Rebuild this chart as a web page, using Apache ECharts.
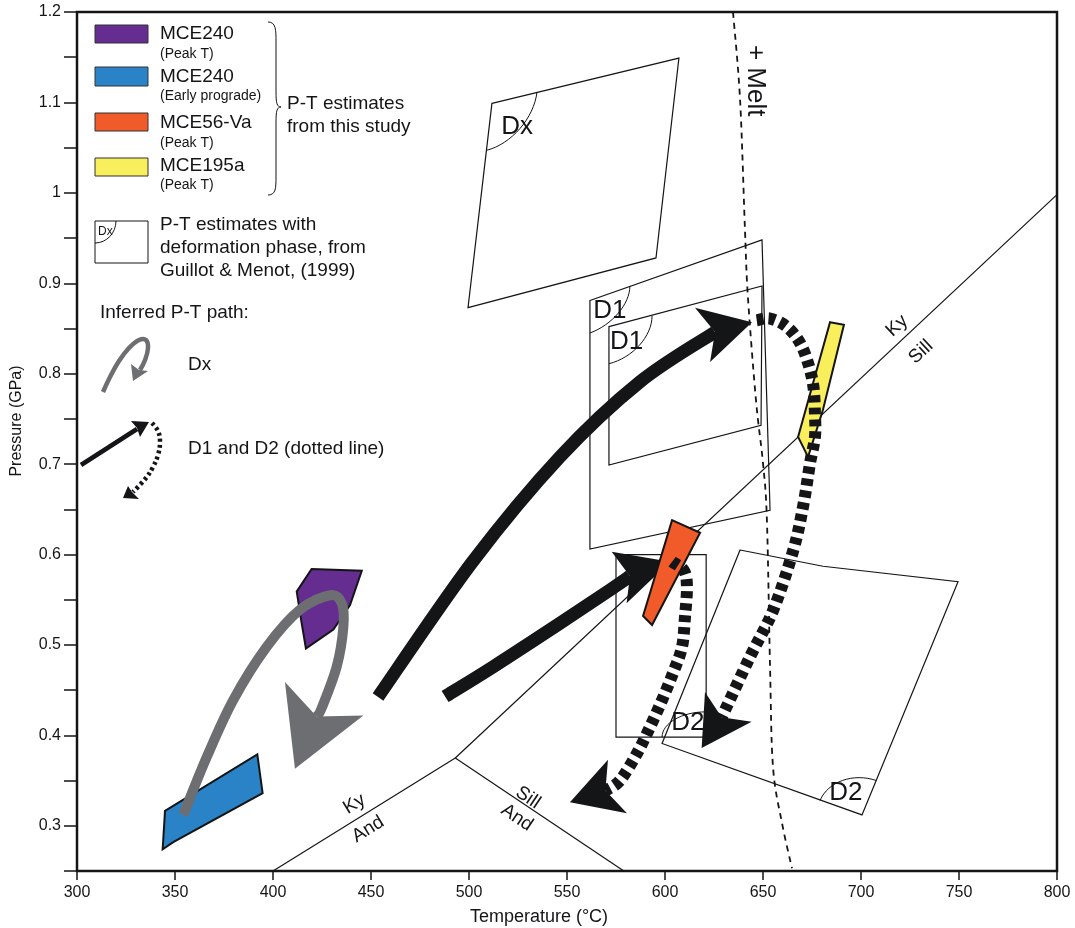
<!DOCTYPE html>
<html>
<head>
<meta charset="utf-8">
<script src="https://cdn.jsdelivr.net/npm/echarts/dist/echarts.min.js"></script>
<style>
  html, body { margin: 0; padding: 0; background: #fff; }
  #main { width: 1075px; height: 928px; }
</style>
</head>
<body>
<div id="main"></div>
<script>
// ---- data (temperature °C, pressure GPa) ----
const tempRange = [300, 800]
const pressRange = [0.25, 1.2]

// aluminosilicate phase boundaries
const kyAnd = [[400, 0.25], [493, 0.375]]
const sillAnd = [[493, 0.375], [579, 0.25]]
const kySill = [[493, 0.375], [800, 0.998]]

// wet solidus (+ Melt)
const meltCurve = [
  [634.7, 1.2], [638.3, 1.103], [640.8, 0.959], [642.3, 0.885], [646.4, 0.771],
  [650.0, 0.701], [652.0, 0.638], [653.6, 0.475], [655.1, 0.365], [659.7, 0.303], [664.8, 0.253],
]

// Guillot & Menot (1999) P-T boxes
const boxDx = [[511.7, 1.099], [607.1, 1.149], [595.4, 0.928], [499.5, 0.873]]
const boxD1outer = [[561.7, 0.881], [649.5, 0.948], [653.6, 0.649], [561.7, 0.606]]
const boxD1inner = [[571.4, 0.852], [649.5, 0.897], [649.0, 0.743], [571.4, 0.699]]
const boxD2small = [[575, 0.6], [621, 0.6], [621, 0.398], [575, 0.398]]
const boxD2big = [[638.3, 0.605], [680.6, 0.587], [749.5, 0.570], [700.5, 0.312], [598.5, 0.391]]

// corner arcs around phase labels: [corner, end on edge 1, end on edge 2]
const labelArcs = [
  [[511.7, 1.099], [508.9, 1.047], [534.7, 1.1115]],
  [[561.7, 0.881], [561.7, 0.845], [582.1, 0.897]],
  [[571.4, 0.852], [571.4, 0.811], [593.4, 0.864]],
  [[620.9, 0.398], [598.5, 0.398], [620.9, 0.426]],
  [[700.5, 0.312], [679.1, 0.328], [707.9, 0.350]],
]
const boxLabelPos = [[524.5, 1.073], [571.9, 0.869], [580.4, 0.835], [611.7, 0.414], [692.3, 0.337]]
const boxLabelText = ['Dx', 'D1', 'D1', 'D2', 'D2']

// phase-line labels: position, rotation (deg)
const lineLabelPos = [[441.5, 0.324], [448.5, 0.296], [530.1, 0.331], [524.5, 0.309], [718.4, 0.853], [730.6, 0.824], [645.9, 1.124]]
const lineLabelText = ['Ky', 'And', 'Sill', 'And', 'Ky', 'Sill', '+ Melt']
const lineLabelRot = [31.6, 31.6, -34, -34, 43, 43, -90]
const lineLabelSize = [19, 19, 19, 19, 19, 19, 26]

// P-T estimates from this study
const mce240Peak = [[419.7, 0.584], [445.3, 0.582], [439.3, 0.544], [430.8, 0.517], [416.8, 0.496], [414.6, 0.5245], [412.1, 0.559]]
const mce240Early = [[344.9, 0.3165], [392.0, 0.379], [394.7, 0.336], [349.1, 0.282], [343.7, 0.274]]
const mce56Va = [[603.6, 0.638], [617.9, 0.624], [593.4, 0.522], [588.8, 0.532]]
const mce195a = [[684.2, 0.857], [691.3, 0.854], [680.6, 0.760], [673.0, 0.708], [667.9, 0.730]]

// inferred P-T paths
const pathDx = [[354.2, 0.312], [366.2, 0.376], [379.7, 0.439], [396.8, 0.498], [413.8, 0.539], [429.1, 0.555],
  [435.1, 0.546], [435.9, 0.520], [432.5, 0.476], [424.8, 0.430], [422.3, 0.421]]
const headDx = [[411.2, 0.363], [406.1, 0.459], [422.3, 0.421], [446.1, 0.422]]
const pathD1a = [[453.6, 0.4425], [501.8, 0.592], [546.4, 0.708], [587.2, 0.791], [625.5, 0.846]]
const headD1a = [[644.4, 0.857], [615.3, 0.873], [625.5, 0.846], [623.0, 0.813]]
const pathD1b = [[487.8, 0.443], [512.4, 0.476], [546.4, 0.524], [572.0, 0.561], [582.1, 0.576]]
const headD1b = [[602.6, 0.592], [572.8, 0.603], [582.1, 0.576], [580.4, 0.546]]
const pathD2a = [[646.8, 0.859], [653.6, 0.861], [662.1, 0.852], [668.9, 0.834], [673.1, 0.811], [675.7, 0.786],
  [676.5, 0.756], [676.5, 0.730], [674.0, 0.701], [670.6, 0.655], [665.5, 0.605], [655.3, 0.539],
  [643.4, 0.487], [631.5, 0.432], [628.9, 0.420]]
const headD2a = [[618.7, 0.386], [620.4, 0.448], [628.9, 0.420], [644.2, 0.415]]
const pathD2b = [[603.6, 0.592], [609.7, 0.582], [611.2, 0.564], [610.2, 0.531], [608.7, 0.498], [604.1, 0.469],
  [598.5, 0.439], [592.3, 0.409], [585.7, 0.380], [577.0, 0.350], [569.6, 0.339]]
const headD2b = [[551.5, 0.326], [570.9, 0.373], [569.6, 0.339], [580.6, 0.314]]

// ---- styles ----
const FONT = '"Liberation Sans", Arial, Helvetica, sans-serif'
const INK = '#131516'
const PURPLE = '#662d91'
const BLUE = '#2a83c6'
const ORANGE = '#f15a29'
const YELLOW = '#f9ee5c'
const GREY = '#6d6e71'

function lineS(pts, color, width, z) {
  return {
    type: 'line', data: pts, symbol: 'none', showSymbol: false,
    silent: true, animation: false, z: z,
    lineStyle: { color: color, width: width, cap: 'butt' },
  }
}

// smooth path through the read points (Catmull-Rom, drawn through the axes)
function curveS(pts, color, width, dash, z) {
  return {
    type: 'custom', data: [0], silent: true, animation: false, z: z,
    renderItem: function (params, api) {
      const p = pts.map(q => api.coord(q))
      let d = 'M' + p[0][0] + ' ' + p[0][1]
      for (let i = 0; i < p.length - 1; i++) {
        const p0 = p[Math.max(i - 1, 0)], p1 = p[i], p2 = p[i + 1], p3 = p[Math.min(i + 2, p.length - 1)]
        const c1x = p1[0] + (p2[0] - p0[0]) / 6, c1y = p1[1] + (p2[1] - p0[1]) / 6
        const c2x = p2[0] - (p3[0] - p1[0]) / 6, c2y = p2[1] - (p3[1] - p1[1]) / 6
        d += ' C' + c1x + ' ' + c1y + ' ' + c2x + ' ' + c2y + ' ' + p2[0] + ' ' + p2[1]
      }
      return {
        type: 'path', shape: { pathData: d },
        style: { fill: 'none', stroke: color, lineWidth: width, lineDash: dash, lineCap: 'butt', lineJoin: 'round' },
      }
    },
  }
}

function polyS(pts, fill, stroke, lw, z) {
  return {
    type: 'custom', data: [0], silent: true, animation: false, z: z,
    renderItem: function (params, api) {
      return {
        type: 'polygon',
        shape: { points: pts.map(p => api.coord(p)) },
        style: { fill: fill, stroke: stroke, lineWidth: lw, lineJoin: 'miter' },
      }
    },
  }
}

const series = [
  lineS(kyAnd, INK, 1.2, 2),
  lineS(sillAnd, INK, 1.2, 2),
  lineS(kySill, INK, 1.2, 2),
  curveS(meltCurve, INK, 1.8, [6, 5], 2),
  polyS(boxDx, 'none', INK, 1.2, 2),
  polyS(boxD1outer, 'none', INK, 1.2, 2),
  polyS(boxD1inner, 'none', INK, 1.2, 2),
  polyS(boxD2small, 'none', INK, 1.2, 2),
  polyS(boxD2big, 'none', INK, 1.2, 2),
  {
    type: 'custom', data: labelArcs.map((a, i) => i), silent: true, animation: false, z: 3,
    renderItem: function (params, api) {
      const [o, a, b] = labelArcs[params.dataIndex].map(p => api.coord(p))
      const k = 0.552
      return {
        type: 'bezierCurve',
        shape: {
          x1: a[0], y1: a[1], x2: b[0], y2: b[1],
          cpx1: a[0] + k * (b[0] - o[0]), cpy1: a[1] + k * (b[1] - o[1]),
          cpx2: b[0] + k * (a[0] - o[0]), cpy2: b[1] + k * (a[1] - o[1]),
        },
        style: { stroke: INK, fill: null, lineWidth: 1 },
      }
    },
  },
  {
    type: 'custom', data: boxLabelPos, silent: true, animation: false, z: 3,
    renderItem: function (params, api) {
      const c = api.coord([api.value(0), api.value(1)])
      return {
        type: 'text', x: c[0], y: c[1],
        style: {
          text: boxLabelText[params.dataIndex], fill: INK, font: '26px ' + FONT,
          align: 'center', verticalAlign: 'middle', textAlign: 'center', textVerticalAlign: 'middle',
        },
      }
    },
  },
  {
    type: 'custom', data: lineLabelPos, silent: true, animation: false, z: 3,
    renderItem: function (params, api) {
      const i = params.dataIndex
      const c = api.coord([api.value(0), api.value(1)])
      return {
        type: 'text', x: c[0], y: c[1], rotation: lineLabelRot[i] * Math.PI / 180,
        style: {
          text: lineLabelText[i], fill: INK, font: lineLabelSize[i] + 'px ' + FONT,
          align: 'center', verticalAlign: 'middle', textAlign: 'center', textVerticalAlign: 'middle',
        },
      }
    },
  },
  polyS(mce240Peak, PURPLE, INK, 2, 4),
  polyS(mce240Early, BLUE, INK, 2, 4),
  curveS(pathDx, GREY, 10, null, 5),
  polyS(headDx, GREY, null, 0, 5),
  curveS(pathD1a, INK, 13, null, 6),
  polyS(headD1a, INK, null, 0, 6),
  curveS(pathD1b, INK, 13, null, 6),
  polyS(headD1b, INK, null, 0, 6),
  polyS(mce56Va, ORANGE, INK, 2, 7),
  polyS(mce195a, YELLOW, INK, 2, 7),
  curveS(pathD2a, INK, 12, [7, 5], 8),
  polyS(headD2a, INK, null, 0, 8),
  curveS(pathD2b, INK, 12, [7, 5], 8),
  polyS(headD2b, INK, null, 0, 8),
]

// ---- legend (drawn in pixels) ----
function txt(x, y, s, size, extra) {
  return Object.assign({
    type: 'text', x: x, y: y, silent: true,
    style: { text: s, fill: INK, font: size + 'px ' + FONT, align: 'left', verticalAlign: 'middle', textAlign: 'left', textVerticalAlign: 'middle' },
  }, extra || {})
}
function swatch(y, h, color) {
  return { type: 'rect', shape: { x: 95, y: y, width: 53, height: h }, style: { fill: color, stroke: '#333', lineWidth: 1 }, silent: true }
}
function curve(x1, y1, c1x, c1y, c2x, c2y, x2, y2) {
  return {
    type: 'bezierCurve', silent: true,
    shape: { x1: x1, y1: y1, cpx1: c1x, cpy1: c1y, cpx2: c2x, cpy2: c2y, x2: x2, y2: y2 },
    style: { stroke: INK, fill: null, lineWidth: 1 },
  }
}
function seg(x1, y1, x2, y2, w) {
  return { type: 'line', silent: true, shape: { x1: x1, y1: y1, x2: x2, y2: y2 }, style: { stroke: INK, lineWidth: w || 1 } }
}
const legend = [
  swatch(25, 18, PURPLE), txt(160, 34, 'MCE240', 19), txt(160, 54, '(Peak T)', 14),
  swatch(67, 19, BLUE), txt(160, 77, 'MCE240', 19), txt(160, 96, '(Early prograde)', 14),
  swatch(113, 18, ORANGE), txt(160, 123, 'MCE56-Va', 19), txt(160, 143, '(Peak T)', 14),
  swatch(158, 18, YELLOW), txt(160, 166, 'MCE195a', 19), txt(160, 185, '(Peak T)', 14),
  // curly brace
  curve(268, 22, 276, 22, 276, 30, 276, 42), seg(276, 42, 276, 92),
  curve(276, 92, 276, 103, 277, 107, 281, 107), curve(281, 107, 277, 107, 276, 111, 276, 122),
  seg(276, 122, 276, 176), curve(276, 176, 276, 188, 276, 195, 268, 195),
  txt(287, 104, 'P-T estimates', 19), txt(287, 127, 'from this study', 19),
  { type: 'rect', shape: { x: 95, y: 221, width: 53, height: 42 }, style: { fill: '#fff', stroke: INK, lineWidth: 1 }, silent: true },
  curve(95, 243, 106.6, 243, 116, 233, 116, 221),
  txt(98, 232, 'Dx', 12),
  txt(160, 225, 'P-T estimates with', 19), txt(160, 248, 'deformation phase, from', 19), txt(160, 271, 'Guillot & Menot, (1999)', 19),
  txt(100, 313, 'Inferred P-T path:', 19),
  {
    type: 'polyline', silent: true,
    shape: { points: [[103, 392], [110, 377], [119, 361], [129, 348], [139, 340], [146, 340], [148, 348], [145, 360], [140, 370]], smooth: 0.4 },
    style: { stroke: GREY, lineWidth: 4.5, fill: null },
  },
  { type: 'polygon', silent: true, shape: { points: [[133, 381], [131, 364], [139, 370], [148, 371]] }, style: { fill: GREY } },
  txt(188, 365, 'Dx', 19),
  seg(81, 465, 137, 429, 4.5),
  { type: 'polygon', silent: true, shape: { points: [[149, 422], [131, 421], [137, 428], [140, 437]] }, style: { fill: INK } },
  {
    type: 'polyline', silent: true,
    shape: { points: [[152, 423], [158, 431], [160, 442], [158, 455], [153, 467], [146, 478], [133, 492]], smooth: 0.4 },
    style: { stroke: INK, lineWidth: 4.5, fill: null, lineDash: [3, 3] },
  },
  { type: 'polygon', silent: true, shape: { points: [[123, 498], [128, 486], [132, 492], [139, 499]] }, style: { fill: INK } },
  txt(188, 449, 'D1 and D2 (dotted line)', 19),
  // axis titles
  {
    type: 'text', x: 539, y: 917, silent: true,
    style: { text: 'Temperature (°C)', fill: INK, font: '18px ' + FONT, align: 'center', verticalAlign: 'middle', textAlign: 'center', textVerticalAlign: 'middle' },
  },
  {
    type: 'text', x: 17, y: 421, rotation: Math.PI / 2, silent: true,
    style: { text: 'Pressure (GPa)', fill: INK, font: '16px ' + FONT, align: 'center', verticalAlign: 'middle', textAlign: 'center', textVerticalAlign: 'middle' },
  },
]

const chart = echarts.init(document.getElementById('main'))
chart.setOption({
  animation: false,
  backgroundColor: '#fff',
  grid: { left: 77, right: 18, top: 12, bottom: 57, show: true, borderColor: INK, borderWidth: 2.5, backgroundColor: 'transparent' },
  xAxis: {
    type: 'value', min: tempRange[0], max: tempRange[1], interval: 50,
    axisLine: { show: true, lineStyle: { color: INK, width: 2 } },
    axisTick: { show: true, length: 9, lineStyle: { color: INK, width: 1.5 } },
    axisLabel: { color: INK, fontSize: 16, fontFamily: FONT, margin: 14 },
    splitLine: { show: false },
  },
  yAxis: {
    type: 'value', min: pressRange[0], max: pressRange[1], interval: 0.05,
    axisLine: { show: true, lineStyle: { color: INK, width: 2 } },
    axisTick: { show: true, length: 13, lineStyle: { color: INK, width: 1.5 } },
    axisLabel: {
      color: INK, fontSize: 16, fontFamily: FONT, margin: 16,
      formatter: function (v) {
        const r = Math.round(v * 10) / 10
        return Math.abs(v - r) < 1e-6 ? String(r) : ''
      },
    },
    splitLine: { show: false },
  },
  graphic: { elements: legend },
  series: series,
})
</script>
</body>
</html>
